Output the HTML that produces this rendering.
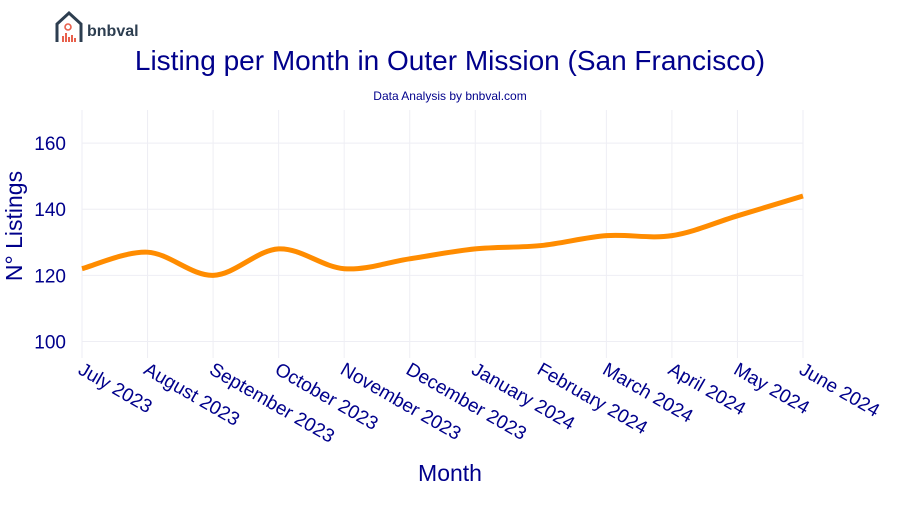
<!DOCTYPE html>
<html><head><meta charset="utf-8"><style>
body{margin:0;background:#fff;font-family:"Liberation Sans",Arial,sans-serif}
svg text{font-family:"Liberation Sans",Arial,sans-serif}
</style></head><body>
<svg id="c" width="900" height="500" viewBox="0 0 900 500">
<g>
<path d="M57 42 V24 L69 13 L81 24 V42" fill="none" stroke="#2d3e50" stroke-width="3"/>
<circle cx="68" cy="27" r="3" fill="none" stroke="#e8604c" stroke-width="1.6"/>
<rect x="62" y="36" width="2" height="6" fill="#e8604c"/><rect x="65" y="33" width="2" height="9" fill="#e8604c"/>
<rect x="68" y="37" width="2" height="5" fill="#e8604c"/><rect x="71" y="35" width="2" height="7" fill="#e8604c"/>
<rect x="74" y="38" width="2" height="4" fill="#e8604c"/>
<text x="87" y="36" font-size="16" font-weight="bold" fill="#2d3e50">bnbval</text>
</g>
<text x="450" y="70" text-anchor="middle" font-size="28" fill="#00008b">Listing per Month in Outer Mission (San Francisco)</text>
<text x="450" y="100" text-anchor="middle" font-size="12" fill="#00008b">Data Analysis by bnbval.com</text>
<g id="grid"></g><g id="ax"></g><g id="series"></g>
<text x="450" y="481" text-anchor="middle" font-size="23" fill="#00008b">Month</text>
<text transform="translate(22,226) rotate(-90)" text-anchor="middle" font-size="23" fill="#00008b">N° Listings</text>
</svg>
<script>
const categories=["July 2023","August 2023","September 2023","October 2023","November 2023","December 2023","January 2024","February 2024","March 2024","April 2024","May 2024","June 2024"];
const listings=[122,127,120,128,122,125,128,129,132,132,138,144];
const yTicks=[100,120,140,160];
const NS="http://www.w3.org/2000/svg";
const x0=82,x1=803,yMin=95,yMax=170,pT=110,pB=358;
const X=i=>x0+i*(x1-x0)/(categories.length-1);
const Y=v=>pB-(v-yMin)/(yMax-yMin)*(pB-pT);
function mk(t,a,p){const e=document.createElementNS(NS,t);for(const k in a)e.setAttribute(k,a[k]);p.appendChild(e);return e;}
const g=document.getElementById('grid'),ax=document.getElementById('ax'),s=document.getElementById('series');
categories.forEach((c,i)=>{
 const l=mk('line',{x1:X(i),x2:X(i),y1:pT,y2:pB,stroke:'#eeeef4'},g);
 
 
 const t=mk('text',{x:0,y:0,'font-size':19,fill:'#00008b',transform:`translate(${X(i)-5},${373}) rotate(30)`},ax);
 t.textContent=c;
 
 
});
yTicks.forEach(v=>{
 const l=mk('line',{x1:x0,x2:x1,y1:Y(v),y2:Y(v),stroke:'#eeeef4'},g);
 
 
 const t=mk('text',{x:66,y:Y(v)+7,'text-anchor':'end','font-size':19,fill:'#00008b'},ax);
 t.textContent=v;
 
 
});
const pts=listings.map((v,i)=>[X(i),Y(v)]);
let d=`M${pts[0][0]},${pts[0][1]}`;
for(let i=0;i<pts.length-1;i++){
 const p0=pts[Math.max(0,i-1)],p1=pts[i],p2=pts[i+1],p3=pts[Math.min(pts.length-1,i+2)];
 const k=1/6;
 d+=` C${p1[0]+(p2[0]-p0[0])*k},${p1[1]+(p2[1]-p0[1])*k} ${p2[0]-(p3[0]-p1[0])*k},${p2[1]-(p3[1]-p1[1])*k} ${p2[0]},${p2[1]}`;
}
const line=mk('path',{d:d,fill:'none',stroke:'#ff8c00','stroke-width':5,'stroke-linejoin':'round'},s);


</script>
</body></html>
